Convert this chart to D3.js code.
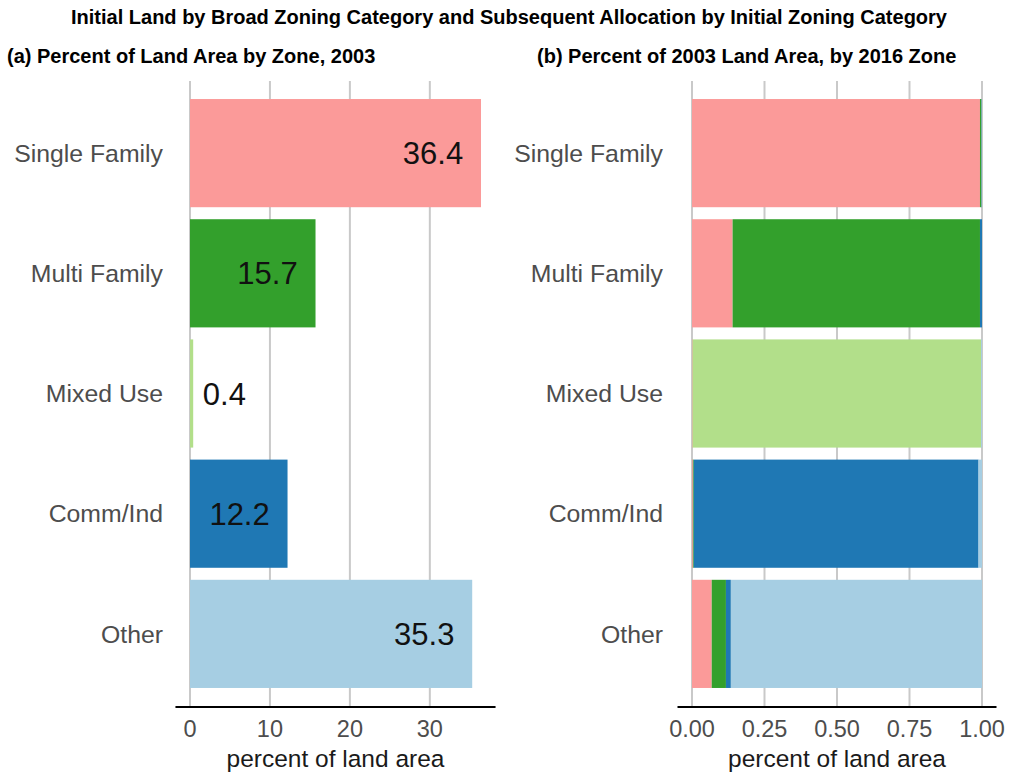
<!DOCTYPE html>
<html>
  <head>
    <meta charset="utf-8" />
    <script src="https://cdn.jsdelivr.net/npm/d3@7"></script>
    <style>
      body {
        margin: 0;
        background: #fff;
        font-family: "Liberation Sans", Arial, Helvetica, sans-serif;
      }
    </style>
  </head>
  <body>
    <script>
      // categories (2003 zone) and their colours
      var zones = ["Single Family", "Multi Family", "Mixed Use", "Comm/Ind", "Other"];
      var zoneColors = ["#fb9a99", "#33a02c", "#b2df8a", "#1f78b4", "#a6cee3"];

      // (a) percent of land area by zone, 2003
      var pct2003 = [36.4, 15.7, 0.4, 12.2, 35.3];

      // (b) share of each 2003 zone ending up in each 2016 zone
      var to2016 = {
        "Single Family": [0.993, 0.005, 0.0, 0.001, 0.001],
        "Multi Family": [0.14, 0.853, 0.0, 0.007, 0.0],
        "Mixed Use": [0.002, 0.0, 0.995, 0.0, 0.003],
        "Comm/Ind": [0.003, 0.003, 0.0, 0.982, 0.012],
        Other: [0.068, 0.049, 0.0, 0.017, 0.866],
      };

      var ticksA = [0, 10, 20, 30];
      var ticksB = [0, 0.25, 0.5, 0.75, 1];

      var W = 1014,
        H = 775;
      var svg = d3.select("body").append("svg").attr("width", W).attr("height", H);

      var gridColor = "#c9c9c9";
      var plotTop = 81,
        plotBottom = 706;

      var y = d3
        .scaleBand()
        .domain(zones)
        .range([plotTop, plotBottom])
        .paddingInner(0.1)
        .paddingOuter(0.15);

      var color = d3.scaleOrdinal().domain(zones).range(zoneColors);

      // titles
      svg
        .append("text")
        .attr("x", 509)
        .attr("y", 24)
        .attr("text-anchor", "middle")
        .style("font-weight", "bold")
        .style("font-size", "20px")
        .text("Initial Land by Broad Zoning Category and Subsequent Allocation by Initial Zoning Category");

      svg
        .append("text")
        .attr("x", 7)
        .attr("y", 63)
        .style("font-weight", "bold")
        .style("font-size", "20px")
        .text("(a) Percent of Land Area by Zone, 2003");

      svg
        .append("text")
        .attr("x", 537)
        .attr("y", 63)
        .style("font-weight", "bold")
        .style("font-size", "20px")
        .text("(b) Percent of 2003 Land Area, by 2016 Zone");

      function drawFrame(x, ticks, fmt, labelRight, lo, hi) {
        // grid
        svg
          .append("g")
          .selectAll("line")
          .data(ticks)
          .enter()
          .append("line")
          .attr("x1", function (d) { return x(d); })
          .attr("x2", function (d) { return x(d); })
          .attr("y1", plotTop)
          .attr("y2", plotBottom)
          .attr("stroke", gridColor)
          .attr("stroke-width", 2);

        // category labels
        svg
          .append("g")
          .selectAll("text")
          .data(zones)
          .enter()
          .append("text")
          .attr("x", labelRight)
          .attr("y", function (d) { return y(d) + y.bandwidth() / 2; })
          .attr("dy", "0.35em")
          .attr("text-anchor", "end")
          .style("font-size", "24.8px")
          .style("fill", "#4d4d4d")
          .text(function (d) { return d; });

        return function () {
          // axis line on top of bars
          svg
            .append("line")
            .attr("x1", x(lo))
            .attr("x2", x(hi))
            .attr("y1", plotBottom + 1)
            .attr("y2", plotBottom + 1)
            .attr("stroke", "#000")
            .attr("stroke-width", 2.2);

          svg
            .append("g")
            .selectAll("text")
            .data(ticks)
            .enter()
            .append("text")
            .attr("x", function (d) { return x(d); })
            .attr("y", 737)
            .attr("text-anchor", "middle")
            .style("font-size", "23.5px")
            .style("fill", "#4d4d4d")
            .text(fmt);

          svg
            .append("text")
            .attr("x", (x(lo) + x(hi)) / 2)
            .attr("y", 767)
            .attr("text-anchor", "middle")
            .style("font-size", "24.5px")
            .style("fill", "#1a1a1a")
            .text("percent of land area");
        };
      }

      // ---- panel (a)
      var xA = d3.scaleLinear().domain([0, 36.4]).range([190, 481]);
      var finishA = drawFrame(xA, ticksA, d3.format("d"), 163, -1.82, 38.22);

      svg
        .append("g")
        .selectAll("rect")
        .data(pct2003)
        .enter()
        .append("rect")
        .attr("x", xA(0))
        .attr("y", function (d, i) { return y(zones[i]); })
        .attr("width", function (d) { return xA(d) - xA(0); })
        .attr("height", y.bandwidth())
        .attr("fill", function (d, i) { return color(zones[i]); });

      svg
        .append("g")
        .selectAll("text")
        .data(pct2003)
        .enter()
        .append("text")
        .attr("x", function (d) { return xA(Math.max(d - 6, 4.3)); })
        .attr("y", function (d, i) { return y(zones[i]) + y.bandwidth() / 2; })
        .attr("dy", "0.36em")
        .attr("text-anchor", "middle")
        .style("font-size", "31px")
        .style("fill", "#111")
        .text(function (d) { return d.toFixed(1); });

      finishA();

      // ---- panel (b)
      var xB = d3.scaleLinear().domain([0, 1]).range([692, 982]);
      var finishB = drawFrame(xB, ticksB, d3.format(".2f"), 663, -0.05, 1.05);

      var stackData = zones.map(function (z) {
        var row = { zone: z };
        zones.forEach(function (k, j) { row[k] = to2016[z][j]; });
        return row;
      });
      var series = d3.stack().keys(zones)(stackData);

      svg
        .append("g")
        .selectAll("g")
        .data(series)
        .enter()
        .append("g")
        .attr("fill", function (s) { return color(s.key); })
        .selectAll("rect")
        .data(function (s) { return s; })
        .enter()
        .append("rect")
        .attr("x", function (d) { return xB(d[0]); })
        .attr("y", function (d) { return y(d.data.zone); })
        .attr("width", function (d) { return Math.max(0, xB(d[1]) - xB(d[0])); })
        .attr("height", y.bandwidth());

      finishB();
    </script>
  </body>
</html>
